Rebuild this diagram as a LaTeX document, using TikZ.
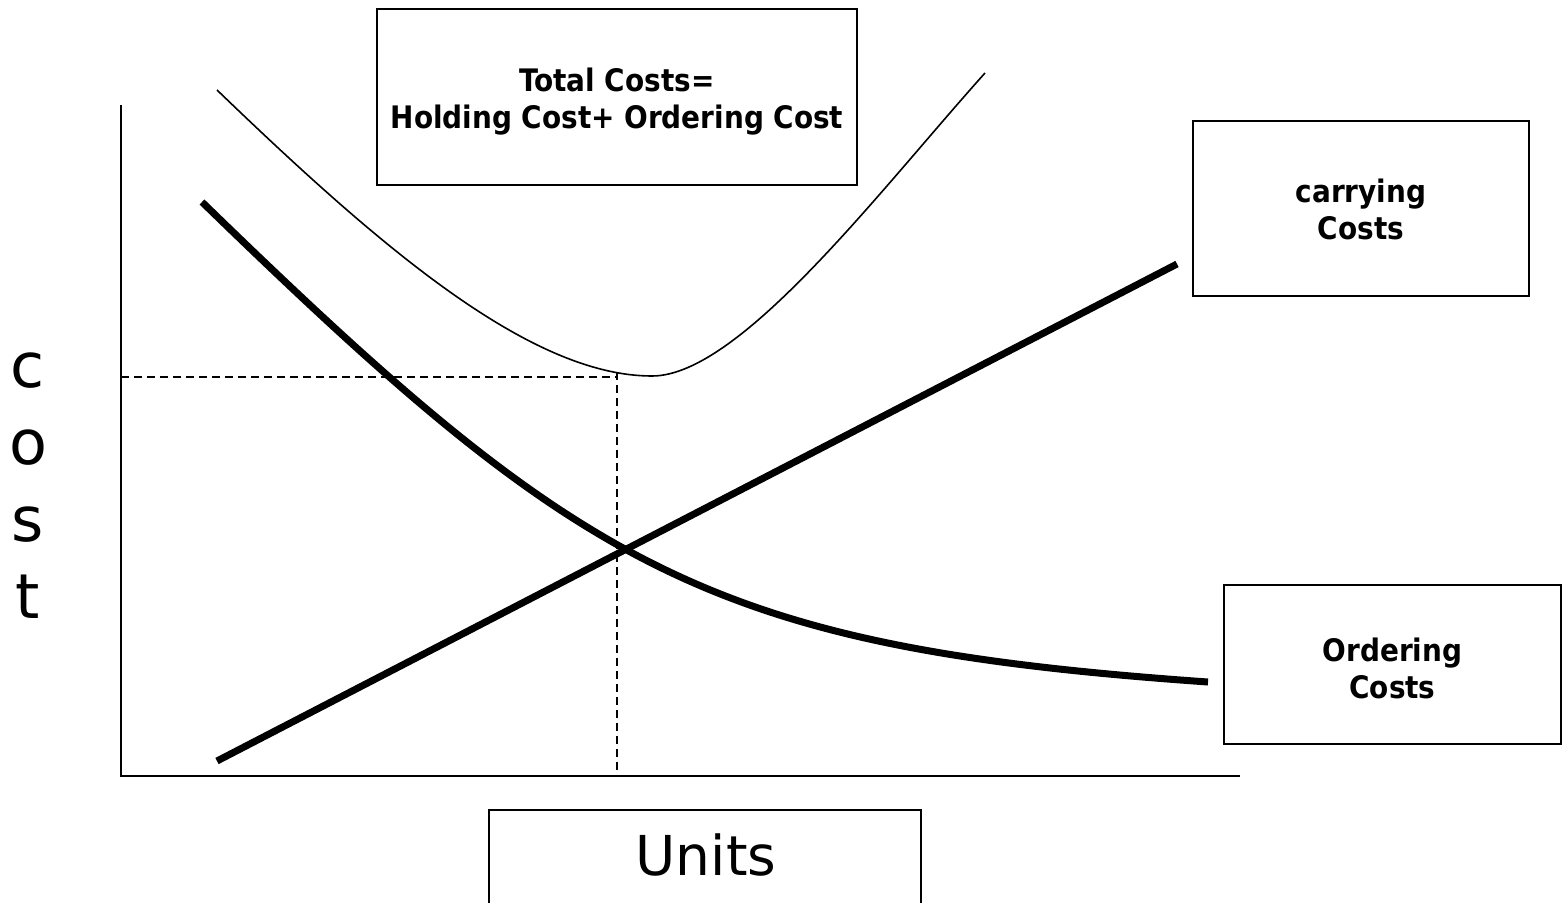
\documentclass[tikz,border=0pt]{standalone}
\usepackage{fontspec}
\setmainfont{DejaVu Sans}
\newfontfamily\condfont{DejaVu Sans Condensed}
\begin{document}
\begin{tikzpicture}[x=1pt,y=-1pt,
  box/.style={draw, line width=2pt, inner sep=0pt, fill=none},
  lbl/.style={font=\condfont\bfseries\fontsize{31}{37}\selectfont, align=center, inner sep=0pt},
  axis/.style={line width=2pt},
  guide/.style={line width=2pt, dash pattern=on 8pt off 5pt},
  costcurve/.style={line width=7pt},
  totalcurve/.style={line width=1.6pt}]
\useasboundingbox (0,0) rectangle (1568,902);
\fill[white] (0,0) rectangle (1568,902);

% axes
\coordinate (ytop) at (121,105);
\coordinate (origin) at (121,776);
\coordinate (xend) at (1240,776);
\draw[axis] (ytop) -- (origin) -- (xend);

% guides
\coordinate (gl) at (121,377);
\coordinate (gm) at (617,377);
\coordinate (gb) at (617,776);
\coordinate (gt) at (617,372);
\draw[guide] (gl) -- (gm);
\draw[guide] (gt) -- (gb);

% total cost curve
\coordinate (t0) at (217,90);
\coordinate (tmin) at (652,376);
\coordinate (t1) at (985,73);
\draw[totalcurve] (t0) .. controls (380,247) and (530,376) .. (tmin)
  .. controls (740,376) and (880,190) .. (t1);

% ordering cost curve
\coordinate (o0) at (202,202);
\coordinate (o1) at (1208,682);
\draw[costcurve] (o0) .. controls (582,571) and (708,647) .. (o1);

% carrying cost line
\coordinate (c0) at (217,761);
\coordinate (c1) at (1177,264);
\draw[costcurve] (c0) -- (c1);

% boxes
\node[box, minimum width=480pt, minimum height=176pt] (totalbox) at (617,97) {};
\node[lbl] (totaltxt) at (617,102) {Total Costs=\\Holding Cost+ Ordering Cost};

\node[box, minimum width=336pt, minimum height=175pt] (carrybox) at (1361,208.5) {};
\node[lbl] (carrytxt) at (1361,209) {carrying\\Costs};

\node[box, minimum width=337pt, minimum height=159pt] (orderbox) at (1392.5,664.5) {};
\node[lbl] (ordertxt) at (1392.5,668) {Ordering\\Costs};

\node[box, minimum width=432pt, minimum height=140pt, anchor=north] (unitsbox) at (705,809) {};
\node[font=\fontsize{55}{66}\selectfont, anchor=base, inner sep=0pt] (unitstxt) at (706,875) {Units};

% y label
\node[font=\fontsize{62}{77}\selectfont, align=center, inner sep=0pt] (ylbl) at (28,485.5) {c\\o\\s\\t};
\end{tikzpicture}
\end{document}
